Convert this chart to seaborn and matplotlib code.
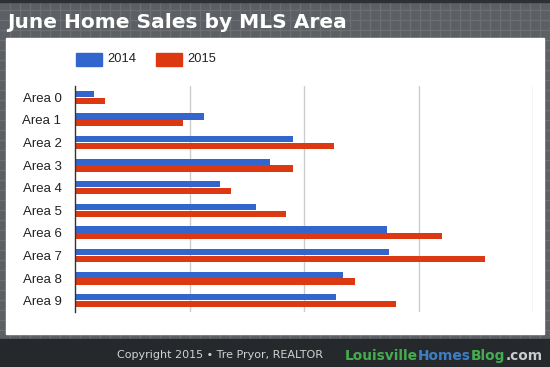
import matplotlib
matplotlib.use("Agg")
import matplotlib.pyplot as plt
import numpy as np
import pandas as pd
import seaborn as sns

# datos (ventas de junio por area MLS)
areas = [f"Area {i}" for i in range(10)]
years = ["2014", "2015"]
sales_2014 = [8, 56, 95, 85, 63, 79, 136, 137, 117, 114]
sales_2015 = [13, 47, 113, 95, 68, 92, 160, 179, 122, 140]
colors = ["#3366cc", "#dc3912"]

df = pd.DataFrame({
    "Area": areas * 2,
    "Year": [years[0]] * len(areas) + [years[1]] * len(areas),
    "Sales": sales_2014 + sales_2015,
})

sns.set_theme(style="white")
plt.rcParams["font.family"] = ["Liberation Sans", "DejaVu Sans"]

W, H = 550, 367
fig = plt.figure(figsize=(W / 100, H / 100), dpi=100)

# fondo: gris con cuadricula, panel blanco y franja inferior oscura
bg = fig.add_axes([0, 0, 1, 1])
bg.set_xlim(0, W)
bg.set_ylim(H, 0)
bg.axis("off")
bg.add_patch(plt.Rectangle((0, 0), W, H, color="#5c6064", zorder=0))
for x in np.arange(9.5, W, 10):
    bg.axvline(x, color="#6b6f73", lw=1, zorder=1)
for y in np.arange(9.5, H, 10):
    bg.axhline(y, color="#6b6f73", lw=1, zorder=1)
bg.add_patch(plt.Rectangle((0, 0), W, 1.5, color="#2e3134", zorder=2))
bg.add_patch(plt.Rectangle((6, 38), 538, 296, color="white", zorder=2))
bg.add_patch(plt.Rectangle((0, 339), W, H - 339, color="#25292c", zorder=2))

bg.text(7.5, 28, "June Home Sales by MLS Area", color="white", fontsize=14.5,
        fontweight="bold", family="DejaVu Sans", va="baseline", ha="left", zorder=3)

bg.text(117, 355, "Copyright 2015 \u2022 Tre Pryor, REALTOR", color="#d2d2d2",
        fontsize=8, family="DejaVu Sans", va="center", ha="left", zorder=3)
t = bg.text(345, 360, "Louisville", color="#45ad4f", fontsize=9.9,
            fontweight="bold", family="DejaVu Sans", va="baseline", ha="left", zorder=3)
for piece, col in [("Homes", "#3d7fc4"), ("Blog", "#45ad4f"), (".com", "#c9cbcc")]:
    t = bg.annotate(piece, xy=(1, 0), xycoords=t, color=col, fontsize=9.9,
                    fontweight="bold", family="DejaVu Sans", va="bottom", ha="left",
                    zorder=3)

# leyenda
for i, (yr, col) in enumerate(zip(years, colors)):
    x0 = 76 + i * 80
    bg.add_patch(plt.Rectangle((x0, 53), 26, 13, color=col, zorder=3))
    bg.text(x0 + 31, 59.5, yr, color="#222222", fontsize=9.3, va="center",
            ha="left", zorder=3)

# grafico de barras
ax = fig.add_axes([75.3 / W, 1 - 312 / H, 458 / W, 226 / H])
ax.set_facecolor("none")
sns.barplot(data=df, y="Area", x="Sales", hue="Year", palette=colors, orient="h",
            width=0.6, gap=0.1, saturation=1, linewidth=0, legend=False, ax=ax)
ax.set_xlim(0, 200)
ax.set_ylim(9.5, -0.5)
ax.set_xticks([50, 100, 150, 200])
ax.xaxis.grid(True, color="#cccccc", lw=1)
ax.set_axisbelow(True)
ax.tick_params(axis="x", labelbottom=False, length=0)
ax.tick_params(axis="y", length=0, labelsize=9.5, labelcolor="#222222", pad=10)
ax.set_xlabel("")
ax.set_ylabel("")
for side in ["top", "right", "bottom"]:
    ax.spines[side].set_visible(False)
ax.spines["left"].set_color("#333333")
ax.spines["left"].set_linewidth(1)
ax.spines["left"].set_zorder(5)

fig.savefig("out.png", dpi=100)
plt.close()
